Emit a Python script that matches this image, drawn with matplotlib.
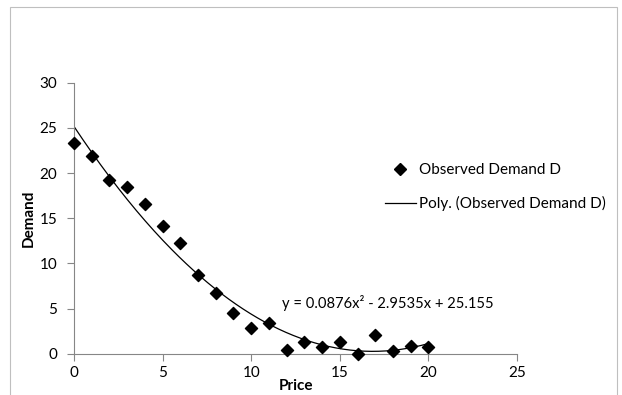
import numpy as np
import matplotlib
matplotlib.use("Agg")
import matplotlib.pyplot as plt
from matplotlib.lines import Line2D
from matplotlib.patches import Rectangle

price = [0, 1, 2, 3, 4, 5, 6, 7, 8, 9, 10, 11, 12, 13, 14, 15, 16, 17, 18, 19, 20]
demand = [23.3, 21.85, 19.25, 18.4, 16.6, 14.1, 12.2, 8.75, 6.7, 4.5, 2.8, 3.35,
          0.4, 1.35, 0.7, 1.3, 0.0, 2.05, 0.3, 0.9, 0.75]
coef = [0.0876, -2.9535, 25.155]
x_ticks = [0, 5, 10, 15, 20, 25]
y_ticks = [0, 5, 10, 15, 20, 25, 30]
equation = "y = 0.0876x² - 2.9535x + 25.155"

plt.rcParams['font.family'] = ['Lato', 'DejaVu Sans']
fig = plt.figure(figsize=(6.22, 3.95), dpi=100)
fig.patches.append(Rectangle((10/622, -0.1), 607/622, 1.1 - 7/395, transform=fig.transFigure,
                             fill=False, edgecolor='#bfbfbf', linewidth=0.8))
ax = fig.add_axes([74/622, 1 - 353.7/395, (517 - 74)/622, (353.7 - 82.7)/395])

xs = np.linspace(price[0], price[-1], 200)
ax.plot(xs, np.polyval(coef, xs), color='black', linewidth=0.9, zorder=2)
ax.scatter(price, demand, marker='D', s=38, color='black', zorder=3, clip_on=False)

ax.set_xlim(0, 25)
ax.set_ylim(0, 30)
ax.set_xticks(x_ticks)
ax.set_yticks(y_ticks)
for s in ['top', 'right']:
    ax.spines[s].set_visible(False)
for s in ['left', 'bottom']:
    ax.spines[s].set_color('#868686')
    ax.spines[s].set_linewidth(0.8)
ax.tick_params(axis='both', colors='#868686', length=5, width=0.8, labelsize=11,
               labelcolor='black')
ax.tick_params(axis='y', pad=7)
ax.tick_params(axis='x', pad=4)
ax.set_xlabel('Price', fontweight='bold', fontsize=11, labelpad=-1)
ax.set_ylabel('Demand', fontweight='bold', fontsize=11, labelpad=3)

ax.text(282/622, 1 - 303/395, equation, transform=fig.transFigure, fontsize=10.6,
        va='center', ha='left')

handles = [Line2D([], [], marker='D', linestyle='none', color='black', markersize=6),
           Line2D([], [], color='black', linewidth=0.9)]
fig.legend(handles, ['Observed Demand D', 'Poly. (Observed Demand D)'],
           loc='upper left', bbox_to_anchor=(385/622, 1 - 163/395), frameon=False,
           fontsize=11, handlelength=2.0, handletextpad=0.25, labelspacing=1.25,
           borderpad=0, borderaxespad=0)

fig.savefig('out.png', dpi=100)
